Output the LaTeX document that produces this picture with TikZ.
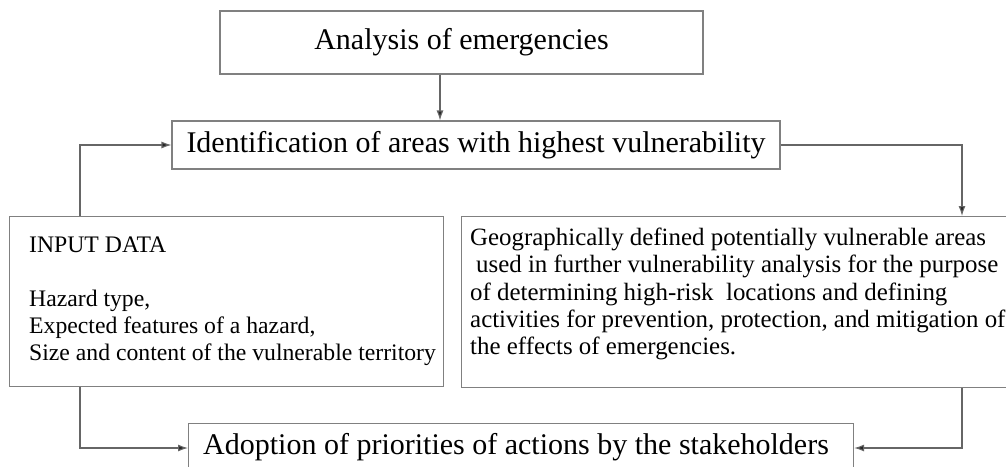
\documentclass[tikz,border=0pt]{standalone}
\usepackage{fontspec}
\setmainfont{Liberation Serif}
\usetikzlibrary{arrows.meta,calc}
\begin{document}
\begin{tikzpicture}[x=1pt,y=-1pt,
  box/.style={draw=black!50,line width=1.1pt,inner sep=0pt,rectangle},
  big/.style={font=\fontsize{30}{34}\selectfont},
  small/.style={font=\fontsize{23.7}{27}\selectfont,align=left,inner sep=0pt},
  smallr/.style={font=\fontsize{24.9}{27.2}\selectfont,align=left,inner sep=0pt},
  arr/.style={draw=black!60,line width=1.1pt,-{Latex[length=10pt,width=7pt,fill=black!85]}}]
\useasboundingbox (0,0) rectangle (1006,466);
\clip (0,0) rectangle (1006,466);
% boxes
\node[box,big,minimum width=483pt,minimum height=63pt] (a) at (461.5,42.5) {Analysis of emergencies};
\node[box,big,minimum width=608pt,minimum height=48pt] (b) at (476,145) {Identification of areas with highest vulnerability};
\node[box,minimum width=434pt,minimum height=170pt,anchor=north west] (c) at (9,216) {};
\node[small,anchor=west] (ctext) at (29,301) {INPUT DATA\\[27pt]Hazard type,\\Expected features of a hazard,\\Size and content of the vulnerable territory};
\node[box,minimum width=600pt,minimum height=171pt,anchor=north west] (d) at (461,216) {};
\node[smallr,anchor=north west] (dtext) at (470,228) {Geographically defined potentially vulnerable areas\\\hspace*{6pt}used in further vulnerability analysis for the purpose\\of determining high-risk~ locations and defining\\activities for prevention, protection, and mitigation of\\the effects of emergencies.};
\node[box,minimum width=665pt,minimum height=90pt,anchor=north west] (e) at (188,423) {};
\node[big,anchor=west,inner sep=0pt] (etext) at (203,447) {Adoption of priorities of actions by the stakeholders};
% helper coordinates
\coordinate (xA) at (440,0);
\coordinate (xL) at (80,0);
\coordinate (xR) at (962,0);
\coordinate (yE) at (0,448);
% connectors
\draw[arr] (a.south -| xA) -- (b.north -| xA);
\draw[arr] (b.east) -| (d.north -| xR);
\draw[arr] (c.north -| xL) |- (b.west);
\draw[arr] (c.south -| xL) |- (e.west |- yE);
\draw[arr] (d.south -| xR) |- (e.east |- yE);
\end{tikzpicture}
\end{document}
